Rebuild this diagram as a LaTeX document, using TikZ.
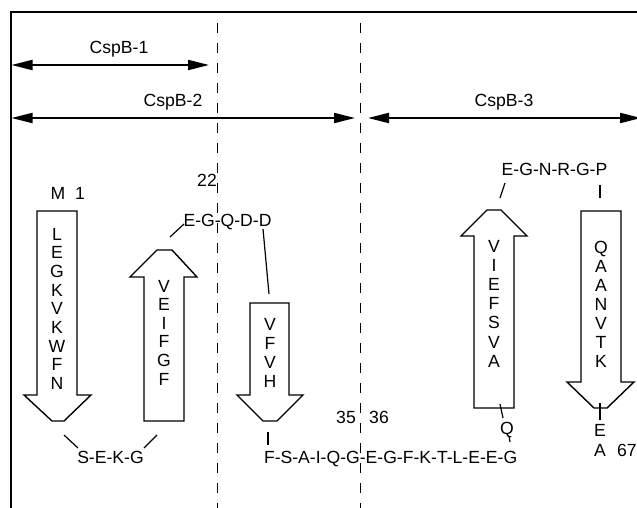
\documentclass[tikz,border=0pt]{standalone}
\usepackage{fontspec}
\setmainfont{Liberation Sans}
\usetikzlibrary{arrows.meta}
\begin{document}
\begin{tikzpicture}[x=0.5pt,y=-0.5pt,
  every node/.style={inner sep=0pt, outer sep=0pt, font=\fontsize{8.8}{10}\selectfont},
  lbl/.style={anchor=base},
  strand/.style={draw=black, line width=0.7pt, fill=white, line join=miter},
  conn/.style={draw=black, line width=0.6pt},
  span/.style={line width=1pt, {Triangle[length=10.5pt,width=5pt]}-{Triangle[length=10.5pt,width=5pt]}},
  divider/.style={line width=0.5pt, dash pattern=on 5pt off 5pt},
  frame/.style={line width=0.7pt}]
\useasboundingbox (0,0) rectangle (637,508);
% frame
\coordinate (fTL) at (11,12);
\coordinate (fTR) at (640,12);
\coordinate (fBL) at (11,510);
\draw[frame] (fTR) -- (fTL) -- (fBL);
% dividers
\coordinate (d1t) at (217,23); \coordinate (d1b) at (217,510);
\coordinate (d2t) at (360,23); \coordinate (d2b) at (360,510);
\draw[divider] (d1t) -- (d1b);
\draw[divider] (d2t) -- (d2b);
% domain spans
\coordinate (c1a) at (11.5,65); \coordinate (c1b) at (209,65);
\coordinate (c2a) at (11.5,118); \coordinate (c2b) at (355,118);
\coordinate (c3a) at (368,118); \coordinate (c3b) at (641,118);
\draw[span] (c1a) -- (c1b);
\draw[span] (c2a) -- (c2b);
\draw[span] (c3a) -- (c3b);
\node[lbl] (t1) at (119,54) {CspB-1};
\node[lbl] (t2) at (173,107) {CspB-2};
\node[lbl] (t3) at (504,107) {CspB-3};
% strands
\draw[strand] (37,211) -- (77,211) -- (77,395) -- (91,395) -- (64,421) -- (52,421) -- (24,395) -- (37,395) -- cycle;
\draw[strand] (144,421) -- (184,421) -- (184,277) -- (197,277) -- (172,250) -- (157,250) -- (130,277) -- (144,277) -- cycle;
\draw[strand] (250,303) -- (289,303) -- (289,395) -- (303,395) -- (277,421) -- (263,421) -- (237,395) -- (250,395) -- cycle;
\draw[strand] (474,408) -- (514,408) -- (514,236) -- (527,236) -- (501,210) -- (487,210) -- (461,236) -- (474,236) -- cycle;
\draw[strand] (581,211) -- (621,211) -- (621,382) -- (634,382) -- (607,408) -- (594,408) -- (567,382) -- (581,382) -- cycle;
% residues in strands
\foreach \l [count=\i] in {L,E,G,K,V,K,W,F,N}
  \node[lbl] (sa\i) at (57,{240+(\i-1)*18.7}) {\l};
\foreach \l [count=\i] in {V,E,I,F,G,F}
  \node[lbl] (sb\i) at (164,{292+(\i-1)*18.6}) {\l};
\foreach \l [count=\i] in {V,F,V,H}
  \node[lbl] (sc\i) at (270,{330+(\i-1)*19.3}) {\l};
\foreach \l [count=\i] in {V,I,E,F,S,V,A}
  \node[lbl] (sd\i) at (494,{252+(\i-1)*19.2}) {\l};
\foreach \l [count=\i] in {Q,A,A,N,V,T,K}
  \node[lbl] (se\i) at (601,{253+(\i-1)*19}) {\l};
% loop texts
\node[lbl] (m) at (58,199) {M};
\node[lbl] (n1) at (80,199) {1};
\node[lbl] (n22) at (207,186) {22};
\node[lbl] (loop1) at (227.5,226) {E-G-Q-D-D};
\node[lbl] (loop2) at (554.5,176) {E-G-N-R-G-P};
\node[lbl] (loop3) at (110.5,463) {S-E-K-G};
\node[lbl, anchor=base west] (loop4) at (264,463) {F-S-A-I-Q-G-E-G-F-K-T-L-E-E-G};
\node[lbl] (n35) at (346,423) {35};
\node[lbl] (n36) at (379,423) {36};
\node[lbl] (rq) at (507,434) {Q};
\node[lbl] (re) at (600,436) {E};
\node[lbl] (ra) at (600,456) {A};
\node[lbl, anchor=base west] (n67) at (617,456) {67};
% connectors
\coordinate (k1a) at (64,435);  \coordinate (k1b) at (78,448);
\coordinate (k2a) at (157,435); \coordinate (k2b) at (144,448);
\coordinate (k3a) at (170,237); \coordinate (k3b) at (184,224);
\coordinate (k4a) at (263,229); \coordinate (k4b) at (269,294);
\coordinate (k5a) at (268,432); \coordinate (k5b) at (268,445);
\coordinate (k6a) at (500,404); \coordinate (k6b) at (503,418);
\coordinate (k7a) at (509,436); \coordinate (k7b) at (510,442);
\coordinate (k8a) at (500,198); \coordinate (k8b) at (505,183);
\coordinate (k9a) at (600,185); \coordinate (k9b) at (600,198);
\coordinate (k10a) at (600,403); \coordinate (k10b) at (600,420);
\foreach \k in {1,...,10} \draw[conn] (k\k a) -- (k\k b);
\end{tikzpicture}
\end{document}
